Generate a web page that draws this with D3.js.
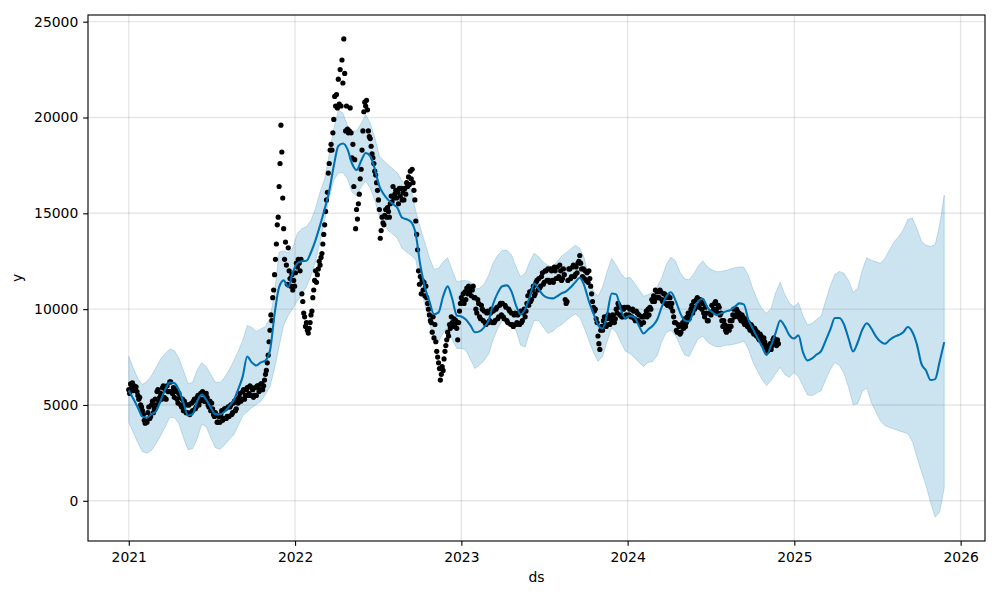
<!DOCTYPE html>
<html><head><meta charset="utf-8">
<script src="https://cdn.jsdelivr.net/npm/d3@7"></script>
<style>body{margin:0;background:#fff} svg{display:block} text{font-family:"DejaVu Sans",sans-serif}</style>
</head><body><svg id="chart" width="1000" height="600"></svg>
<script>
// ---- observations (daily series sampled every 2 days) ----
const obsStart = "2021-01-01";
const obsStepDays = 2;
const obsValues = [
5800,5600,6100,5900,6150,5750,6000,5850,5950,5700,
5500,5300,5400,5000,4900,4700,4500,4200,4050,4150,
4100,4600,4900,4300,4400,5000,5200,4600,4800,5300,
5000,5700,5800,5200,5400,5600,5300,5900,6000,5400,
5800,5300,6000,5700,5700,6200,6200,5700,5600,5900,
5400,5800,5700,5300,5100,5600,5400,5000,4900,5300,
4700,5200,5000,4600,4600,5000,5000,4500,4600,5100,
4700,5200,5300,4800,4900,5400,5500,5000,5200,5600,
5300,5700,5600,5200,5200,5600,5400,5000,4900,5200,
4700,5100,4800,4500,4400,4600,4500,4100,4100,4400,
4100,4500,4700,4200,4300,4800,4800,4300,4400,4900,
4400,4900,5000,4500,4600,5100,5200,4700,4800,5300,
5100,5400,5600,5200,5300,5700,5800,5300,5500,5800,
5900,5500,5600,6000,5500,5900,5800,5400,5500,5900,
5500,6000,6000,5700,5800,6100,6100,5800,6000,6300,
6600,6800,7200,7600,8300,8900,9700,9400,10600,11000,
11800,12600,13400,14400,14800,16400,17600,19600,18200,15800,
14200,12600,13500,12300,11300,13200,12000,11600,11200,11800,
11000,11500,11200,11900,12400,12200,12600,12400,12000,12600,
10800,10400,9800,9600,9100,9300,8900,8750,9000,9300,
9700,9900,10600,11000,11500,12000,11400,11800,12100,12500,
12300,12700,12900,13400,13900,14400,15100,15700,16100,17100,
17600,18300,18600,18300,19200,19900,21100,20600,21200,20500,
22000,20700,22500,20600,23000,21800,24100,22300,19300,20600,
19400,19200,19300,20500,19200,17900,18600,16400,17800,14200,
15200,14700,15500,16000,16800,17300,18300,19300,20300,20800,
20600,20900,20400,19300,19000,18900,18500,18100,17900,17600,
17200,17000,16600,16200,15700,15200,13700,14100,14800,14500,
14400,14900,15200,14800,15300,15100,14800,15500,15900,15600,
16400,15800,16000,16200,15800,16100,15500,16300,15900,16300,
15700,16100,15700,16300,16000,16600,16400,16900,16500,17200,
16800,17300,16600,16200,15700,14600,13900,13100,12000,11300,
11700,10800,11500,11000,11400,10700,11200,10600,10300,10000,
9700,9400,9300,8800,9600,8500,9200,8300,7800,7500,
7200,6900,6300,6600,7000,6800,7400,7800,8100,8400,
8800,8600,9200,9000,9600,9300,9100,9500,9200,9400,
9000,8400,9300,9900,10300,10600,10400,10800,10300,10900,
10500,11100,10800,11200,10900,11100,10700,11000,11200,10600,
10600,10000,9800,10500,10300,9600,9500,10200,10000,9400,
9900,9300,9200,9800,9900,9300,9400,9800,10000,9300,
9900,9300,9400,10000,10100,9500,9600,10200,10300,9700,
10300,9600,9500,10200,10100,9400,9300,10000,9900,9200,
9800,9200,9100,9700,9800,9200,9300,9700,9800,9200,
9900,9300,9400,9800,10000,9600,9900,10300,10700,10200,
10900,10400,10500,11000,11200,10700,10800,11400,11500,11000,
11600,11100,11200,11700,11900,11300,11400,12000,12000,11500,
12100,11500,11400,12100,12000,11500,11400,12200,12000,11600,
12200,11600,11700,12300,12000,11500,11600,12100,11800,10500,
10300,10400,11500,12100,12100,11600,11700,12200,12300,11700,
11800,12200,11900,12400,12500,12800,12400,12100,11700,12100,
11600,12000,11500,11900,11400,12000,11600,11200,10800,10400,
10100,9900,10000,9500,9300,8600,8200,7900,8900,9100,
8900,9400,9600,9200,9100,9500,9700,9200,9200,9500,
9300,9700,9600,9300,9500,10000,9800,10300,10200,9700,
10100,9600,9600,10000,10100,9600,9700,10100,10100,9700,
10000,9600,9600,10000,9900,9500,9400,9900,9800,9400,
9700,9300,9200,9600,9600,9300,9600,9700,9900,9600,
10000,9700,10100,10000,10500,10400,10700,10400,11000,10600,
10900,10600,10600,11000,10900,10500,10400,10800,10800,10300,
10600,10200,10700,10300,10600,10100,10300,9900,9600,9300,
9300,8900,8800,9200,9100,8700,8800,9200,9300,9000,
9500,9100,9300,9600,9800,9500,9700,10000,10200,9800,
10400,10000,10100,10500,10600,10200,10100,10500,10400,10000,
10300,9800,9600,10100,9800,9400,9400,9800,9800,9700,
10200,9900,10000,10300,10400,10000,9800,10200,10100,9700,
9800,9400,9100,9400,9200,8900,8800,9100,9100,8900,
9400,9100,9400,9700,10000,9600,9700,10000,9900,9600,
9800,9500,9400,9700,9600,9300,9200,9500,9400,9100,
9300,9000,8900,9200,9100,8800,8700,9000,8900,8600,
8800,8500,8400,8700,8600,8300,8200,8500,8300,8000,
8100,7800,7900,8000,8200,7900,8100,8400,8500,8200,
8400,8100,8400,8200
];

// ---- forecast (sampled every 10 days) ----
const fcStart = "2021-01-01";
const fcStepDays = 10;
const yhat = [
5750,5320,4860,4390,4340,4520,4680,5230,5800,6170,
6140,5780,5120,4450,4520,5180,5540,5280,4860,4520,
4520,4650,4920,5230,5800,6480,7530,7220,7060,7220,
7320,7840,9730,11140,11500,11150,11920,12390,12500,12520,
12970,13600,14380,15220,16160,17470,18510,18640,18350,17600,
17260,17730,18150,17990,17310,16420,15980,15690,15480,15270,
14770,14690,14540,13910,12290,11140,10410,9730,9830,10670,
11190,10540,9670,9620,9460,9150,8790,8840,9050,9410,
10280,10850,11200,11240,10930,10200,9730,9990,10620,11330,
11030,10720,10590,10560,10670,10820,10930,11140,11400,11640,
11220,10410,9780,9180,8990,9730,10820,10770,9990,9540,
9650,9570,9130,8730,8940,9130,9460,10120,10670,10880,
10460,9830,9410,9360,9910,10410,10540,10090,9860,9700,
9780,9880,9940,10120,10300,10250,9460,8970,8500,8050,
7610,8110,8760,9410,9100,8650,8470,8630,7740,7320,
7430,7630,7820,8370,8940,9540,9540,9200,8470,7790,
8260,8920,9260,8990,8580,8310,8190,8390,8550,8650,
8790,9070,8810,8160,7140,6800,6300,6350,7270,8280
];
const yhatUpper = [
7530,6930,6380,6070,6220,6540,6960,7400,7690,7920,
7840,7450,6800,6120,6170,6820,7220,7010,6590,6200,
6170,6430,6820,7270,7790,8370,9150,9050,8840,8970,
9100,9520,10880,12970,13050,12940,13180,13960,14200,14300,
14640,15270,16110,16810,18090,19400,20390,20240,19580,19300,
19300,19690,20160,19710,18980,17990,17730,17520,17310,17100,
16680,16520,16290,15110,14250,13470,12680,12080,12130,12470,
12680,12030,11430,11480,11500,11430,11060,11090,11300,11770,
12420,12810,13070,13070,12840,12210,11690,11870,12470,12920,
12730,12450,12290,12210,12470,12760,12940,13130,13330,13180,
12650,11610,10960,10670,11140,11970,12650,12290,11870,11610,
11660,11370,11030,10670,10750,10900,11150,11640,12340,12710,
12520,11920,11580,11530,11840,12240,12520,12210,12050,11950,
11970,12010,12080,12160,12200,12200,11770,11060,10480,10010,
9780,10040,10850,11400,10770,10330,10120,10350,9650,9180,
9260,9460,9650,10460,11220,11820,11970,11870,11500,10880,
11090,12030,12680,12550,12470,12390,12650,13100,13520,13780,
14140,14690,14750,14200,13540,13330,13280,13360,14410,15950
];
const yhatLower = [
4080,3560,3030,2560,2480,2620,2980,3400,3870,4340,
4340,4030,3290,2670,2720,3220,4000,3870,3290,2770,
2690,2900,3190,3430,3920,4420,4650,4860,5020,5200,
5540,5960,6900,8050,9150,9670,10010,10430,10770,11160,
11740,12500,13540,14640,15790,16730,17100,17130,16790,16110,
15900,16370,16680,16310,15690,14850,14430,14090,13910,13670,
13180,12970,12810,12580,11240,10200,9280,8370,8310,8730,
9050,8390,7950,7950,7870,7370,6900,7090,7320,7660,
8420,8990,9410,9410,9260,8890,8110,8020,8790,9410,
9410,9050,8730,8840,9050,9200,9390,9590,9750,9570,
9020,8370,7740,7270,7530,8310,9020,8790,8290,7810,
7690,7480,7220,7010,7220,7270,7580,8310,8790,8890,
8630,8110,7610,7530,8000,8470,8580,8290,8130,8030,
8050,8110,8130,8180,8240,8340,7920,7240,6770,6330,
6010,6280,6640,6960,6590,6430,6690,6480,5990,5520,
5490,5620,5750,6330,6850,7220,7060,6640,5910,5020,
5070,5700,5880,5120,4650,4160,3920,3820,3740,3660,
3580,3500,3090,2300,1520,810,-80,-850,-600,680
];

// ---- axis ticks / labels ----
const xTickLabels = ["2021","2022","2023","2024","2025","2026"];
const yTickValues = [0,5000,10000,15000,20000,25000];
const xLabel = "ds", yLabel = "y";

const parse = d3.utcParse("%Y-%m-%d");
const obs = obsValues.map((v,i)=>({date:d3.utcDay.offset(parse(obsStart), i*obsStepDays), value:v}));
const fc = yhat.map((v,i)=>({date:d3.utcDay.offset(parse(fcStart), i*fcStepDays), yhat:v, upper:yhatUpper[i], lower:yhatLower[i]}));
const xTickDates = xTickLabels.map(s=>parse(s+"-01-01"));

const plotL=88, plotR=985, plotT=15, plotB=541;
const svg = d3.select("#chart");

const xExt = d3.extent(obs.map(d=>d.date).concat(fc.map(d=>d.date)));
const xPad = (xExt[1]-xExt[0])*0.05;
const x = d3.scaleUtc().domain([new Date(+xExt[0]-xPad), new Date(+xExt[1]+xPad)]).range([plotL, plotR]);
const yMin = Math.min(d3.min(obsValues), d3.min(yhatLower));
const yMax = Math.max(d3.max(obsValues), d3.max(yhatUpper));
const yPad = (yMax-yMin)*0.05;
const y = d3.scaleLinear().domain([yMin-yPad, yMax+yPad]).range([plotB, plotT]);

svg.append("defs").append("clipPath").attr("id","clip").append("rect")
  .attr("x",plotL).attr("y",plotT).attr("width",plotR-plotL).attr("height",plotB-plotT);
const g = svg.append("g").attr("clip-path","url(#clip)");

// uncertainty band
g.append("path").datum(fc)
  .attr("d", d3.area().x(d=>x(d.date)).y0(d=>y(d.lower)).y1(d=>y(d.upper)))
  .attr("fill","#0072B2").attr("fill-opacity",0.2)
  .attr("stroke","#0072B2").attr("stroke-opacity",0.2).attr("stroke-width",1);

// grid
g.selectAll(".gx").data(xTickDates).enter().append("line")
  .attr("x1",d=>x(d)).attr("x2",d=>x(d)).attr("y1",plotT).attr("y2",plotB)
  .attr("stroke","#808080").attr("stroke-opacity",0.2).attr("stroke-width",1.39);
g.selectAll(".gy").data(yTickValues).enter().append("line")
  .attr("x1",plotL).attr("x2",plotR).attr("y1",d=>y(d)).attr("y2",d=>y(d))
  .attr("stroke","#808080").attr("stroke-opacity",0.2).attr("stroke-width",1.39);

// observations
g.selectAll(".pt").data(obs).enter().append("circle")
  .attr("cx",d=>x(d.date)).attr("cy",d=>y(d.value)).attr("r",2.6).attr("fill","#000");

// forecast line
g.append("path").datum(fc)
  .attr("d", d3.line().x(d=>x(d.date)).y(d=>y(d.yhat)).curve(d3.curveMonotoneX))
  .attr("fill","none").attr("stroke","#0072B2").attr("stroke-width",2.08);

// axes
const xAxis = d3.axisBottom(x).tickValues(xTickDates).tickFormat((d,i)=>xTickLabels[i])
  .tickSize(4.86).tickPadding(4.86).tickSizeOuter(0);
const gx = svg.append("g").attr("transform",`translate(0,${plotB})`).call(xAxis);
const yAxis = d3.axisLeft(y).tickValues(yTickValues).tickFormat(d3.format("d"))
  .tickSize(4.86).tickPadding(4.86).tickSizeOuter(0);
const gy = svg.append("g").attr("transform",`translate(${plotL},0)`).call(yAxis);
[gx,gy].forEach(a=>{
  a.select(".domain").remove();
  a.selectAll(".tick line").attr("stroke","#000").attr("stroke-width",1.11);
  a.selectAll(".tick text").attr("fill","#000").style("font-size","13.9px").style("font-family","DejaVu Sans");
});
gx.selectAll(".tick text").attr("dy","0.78em");

// spines
svg.append("rect").attr("x",plotL).attr("y",plotT).attr("width",plotR-plotL).attr("height",plotB-plotT)
  .attr("fill","none").attr("stroke","#000").attr("stroke-width",1.11);

// axis labels
svg.append("text").attr("x",(plotL+plotR)/2).attr("y",582).attr("text-anchor","middle")
  .style("font-size","13.9px").text(xLabel);
svg.append("text").attr("transform",`translate(22,${(plotT+plotB)/2}) rotate(-90)`).attr("text-anchor","middle")
  .style("font-size","13.9px").text(yLabel);
</script></body></html>
